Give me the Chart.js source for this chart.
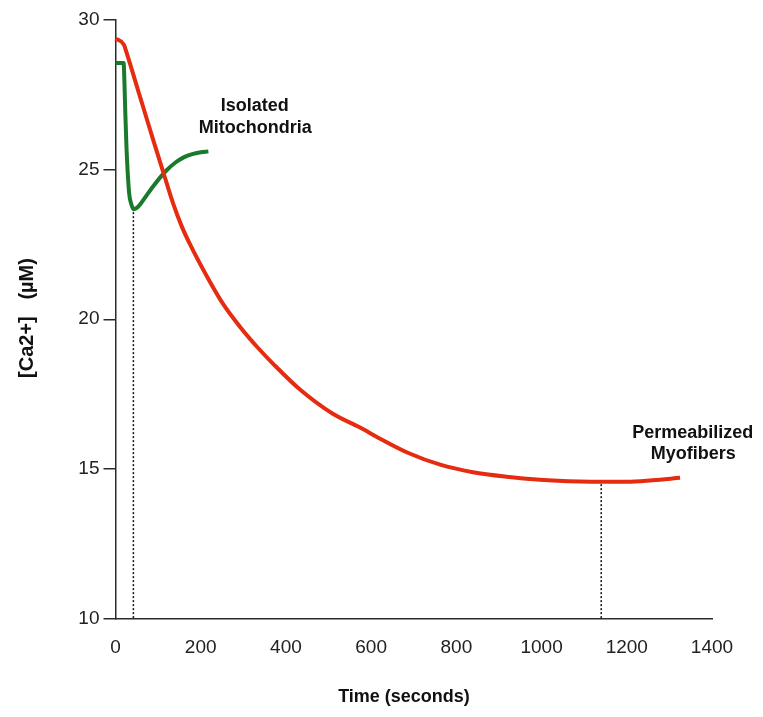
<!DOCTYPE html>
<html>
<head>
<meta charset="utf-8">
<script src="https://cdn.jsdelivr.net/npm/chart.js@4.4.1/dist/chart.umd.min.js"></script>
<style>
  html, body { margin: 0; padding: 0; background: #fff; }
  #chart { display: block; }
</style>
</head>
<body>
<canvas id="chart" width="763" height="717"></canvas>
<script>
// ── data ───────────────────────────────────────────────────────
const X_TICKS = [0, 200, 400, 600, 800, 1000, 1200, 1400];
const Y_TICKS = [10, 15, 20, 25, 30];

// permeabilized myofibers (red)
const fiberTime = [0, 20, 24, 60, 89, 112, 135, 155, 175, 215, 252, 292, 332, 370, 433, 510, 574, 621, 686, 762, 839, 918, 996, 1090, 1140, 1200, 1260, 1325];
const fiberCa   = [29.38, 29.17, 29.0, 27.32, 25.97, 24.92, 23.88, 23.12, 22.5, 21.42, 20.52, 19.75, 19.08, 18.51, 17.65, 16.84, 16.38, 16.01, 15.54, 15.14, 14.89, 14.74, 14.64, 14.58, 14.57, 14.57, 14.62, 14.70];

// isolated mitochondria (green)
const mitoTime = [0, 19, 21, 23, 26, 32, 37, 42, 50, 60, 75, 90, 105, 120, 140, 160, 180, 200, 218];
const mitoCa   = [28.56, 28.56, 27.9, 26.9, 25.66, 24.22, 23.85, 23.68, 23.72, 23.88, 24.18, 24.47, 24.74, 24.98, 25.23, 25.41, 25.52, 25.58, 25.61];

// dotted drop lines (time of minimum, level at top)
const mitoMinTime = 42,   mitoMinCa = 23.68;
const fiberMinTime = 1140, fiberMinCa = 14.57;

const FONT = '"Liberation Sans", Arial, Helvetica, sans-serif';

function pairs(xs, ys) {
    return xs.map((x, i) => ({ x, y: ys[i] }));
}

// ── text that sits on the plot (labels + axis titles) ─────────
const textPlugin = {
    id: 'plotText',
    afterDraw(chart) {
        const ctx = chart.ctx;
        const xs = chart.scales.x, ys = chart.scales.y;
        ctx.save();
        ctx.fillStyle = '#111';
        ctx.textAlign = 'center';
        ctx.textBaseline = 'middle';
        ctx.font = 'bold 18px ' + FONT;

        // series labels, anchored in data units
        const notes = [
            { text: 'Isolated',      t: 327,  v: 27.13 },
            { text: 'Mitochondria',  t: 328,  v: 26.39 },
            { text: 'Permeabilized', t: 1355, v: 16.21 },
            { text: 'Myofibers',     t: 1356, v: 15.48 }
        ];
        notes.forEach(n => {
            ctx.fillText(n.text, xs.getPixelForValue(n.t), ys.getPixelForValue(n.v));
        });

        // axis titles
        ctx.fillText('Time (seconds)', 404, 697);
        ctx.translate(27, 318);
        ctx.rotate(-Math.PI / 2);
        ctx.font = 'bold 20px ' + FONT;
        ctx.fillText('[Ca2+]   (\u00B5M)', 0, 0);
        ctx.restore();
    }
};

const axisColor = '#2b2b2b';

new Chart(document.getElementById('chart'), {
    type: 'line',
    data: {
        datasets: [
            {
                label: 'Permeabilized Myofibers',
                data: pairs(fiberTime, fiberCa),
                borderColor: '#e62c10',
                borderWidth: 4,
                pointRadius: 0,
                cubicInterpolationMode: 'monotone',
                fill: false
            },
            {
                label: 'Isolated Mitochondria',
                data: pairs(mitoTime, mitoCa),
                borderColor: '#1a7a2c',
                borderWidth: 4,
                pointRadius: 0,
                cubicInterpolationMode: 'monotone',
                fill: false
            },
            {
                label: 'mito min',
                data: [{ x: mitoMinTime, y: mitoMinCa - 0.1 }, { x: mitoMinTime, y: 10 }],
                borderColor: '#111',
                borderWidth: 1.5,
                borderDash: [2, 2],
                pointRadius: 0
            },
            {
                label: 'fiber min',
                data: [{ x: fiberMinTime, y: fiberMinCa - 0.08 }, { x: fiberMinTime, y: 10 }],
                borderColor: '#111',
                borderWidth: 1.5,
                borderDash: [2, 2],
                pointRadius: 0
            }
        ]
    },
    options: {
        responsive: false,
        animation: false,
        clip: false,
        layout: { padding: { left: 0, right: 51, top: 20, bottom: 0 } },
        plugins: {
            legend: { display: false },
            tooltip: { enabled: false }
        },
        scales: {
            x: {
                type: 'linear',
                min: 0,
                max: 1400,
                afterBuildTicks: s => { s.ticks = X_TICKS.map(v => ({ value: v })); },
                afterFit: s => { s.height = 98.5; },
                grid: { display: false },
                border: { display: true, color: axisColor, width: 1.5 },
                ticks: {
                    color: '#222',
                    padding: 10,
                    maxRotation: 0,
                    callback: v => String(v),
                    font: { family: FONT, size: 19 }
                }
            },
            y: {
                type: 'linear',
                min: 10,
                max: 30,
                afterBuildTicks: s => { s.ticks = Y_TICKS.map(v => ({ value: v })); },
                afterFit: s => { s.width = 115.5; },
                grid: {
                    display: true,
                    drawOnChartArea: false,
                    drawTicks: true,
                    tickLength: 12,
                    color: axisColor,
                    lineWidth: 1.5
                },
                border: { display: true, color: axisColor, width: 1.5 },
                ticks: {
                    color: '#222',
                    padding: 4,
                    callback: v => String(v),
                    font: { family: FONT, size: 19 }
                }
            }
        }
    },
    plugins: [textPlugin]
});
</script>
</body>
</html>
